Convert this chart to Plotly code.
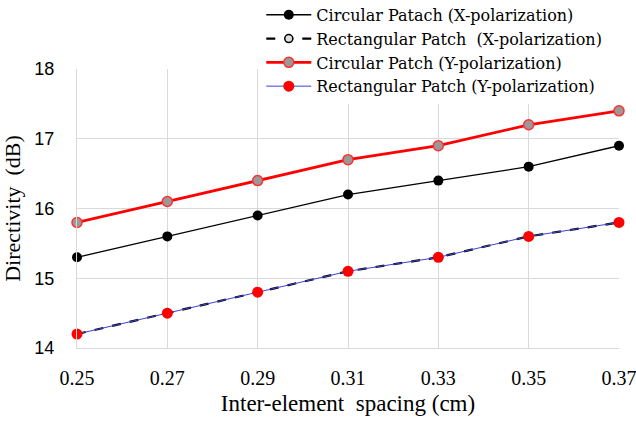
import plotly.graph_objects as go

spacing = [0.25, 0.27, 0.29, 0.31, 0.33, 0.35, 0.37]
circ_x = [15.3, 15.6, 15.9, 16.2, 16.4, 16.6, 16.9]
rect_x = [14.2, 14.5, 14.8, 15.1, 15.3, 15.6, 15.8]
circ_y = [15.8, 16.1, 16.4, 16.7, 16.9, 17.2, 17.4]
rect_y = [14.2, 14.5, 14.8, 15.1, 15.3, 15.6, 15.8]

x_ticks = [0.25, 0.27, 0.29, 0.31, 0.33, 0.35, 0.37]
y_ticks = [14, 15, 16, 17, 18]

serif = "Liberation Serif, Times New Roman, serif"
wide_serif = "DejaVu Serif, serif"
sans = "Liberation Sans, Arial, sans-serif"

fig = go.Figure()
fig.add_trace(go.Scatter(
    x=spacing, y=circ_x, mode="lines+markers",
    name="Circular Patach (X-polarization)",
    line=dict(color="black", width=1.3),
    marker=dict(color="black", size=10),
    cliponaxis=False,
))
fig.add_trace(go.Scatter(
    x=spacing, y=rect_x, mode="lines+markers",
    name="Rectangular Patch  (X-polarization)",
    line=dict(color="black", width=2.2, dash="dash"),
    marker=dict(color="#dddddd", size=8, line=dict(color="black", width=1.5)),
    cliponaxis=False,
))
fig.add_trace(go.Scatter(
    x=spacing, y=circ_y, mode="lines+markers",
    name="Circular Patch (Y-polarization)",
    line=dict(color="#ff0000", width=2.8),
    marker=dict(color="#999999", size=10, line=dict(color="#ff3030", width=1.5)),
    cliponaxis=False,
))
fig.add_trace(go.Scatter(
    x=spacing, y=rect_y, mode="lines+markers",
    name="Rectangular Patch (Y-polarization)",
    line=dict(color="#4040d0", width=1),
    marker=dict(color="#ff0000", size=11),
    cliponaxis=False,
))

fig.update_layout(
    width=636, height=423,
    margin=dict(l=77, r=17, t=69, b=75, autoexpand=False),
    paper_bgcolor="white", plot_bgcolor="white",
    showlegend=True,
    legend=dict(
        x=0.34, y=1.255, xanchor="left", yanchor="top",
        bgcolor="white", borderwidth=0,
        font=dict(family=wide_serif, size=16, color="black"),
        itemwidth=45, tracegroupgap=0,
    ),
    xaxis=dict(
        range=[0.25, 0.37], tickvals=x_ticks, tickformat=".2f",
        showgrid=True, gridcolor="#d9d9d9", gridwidth=1,
        showline=True, linecolor="#d9d9d9", mirror=False,
        zeroline=False, ticklabelstandoff=12, ticklabeloverflow="allow",
        tickfont=dict(family=serif, size=20, color="black"),
        title=dict(text="Inter-element  spacing (cm)",
                   font=dict(family=serif, size=23, color="black"), standoff=6),
    ),
    yaxis=dict(
        range=[14, 18], tickvals=y_ticks,
        showgrid=True, gridcolor="#d9d9d9", gridwidth=1,
        showline=True, linecolor="#d9d9d9",
        zeroline=False, ticklabelstandoff=18,
        tickfont=dict(family=sans, size=18, color="black"),
        title=dict(text="Directivity  (dB)",
                   font=dict(family=serif, size=22, color="black"), standoff=8),
    ),
)

fig.write_html("out.html")
